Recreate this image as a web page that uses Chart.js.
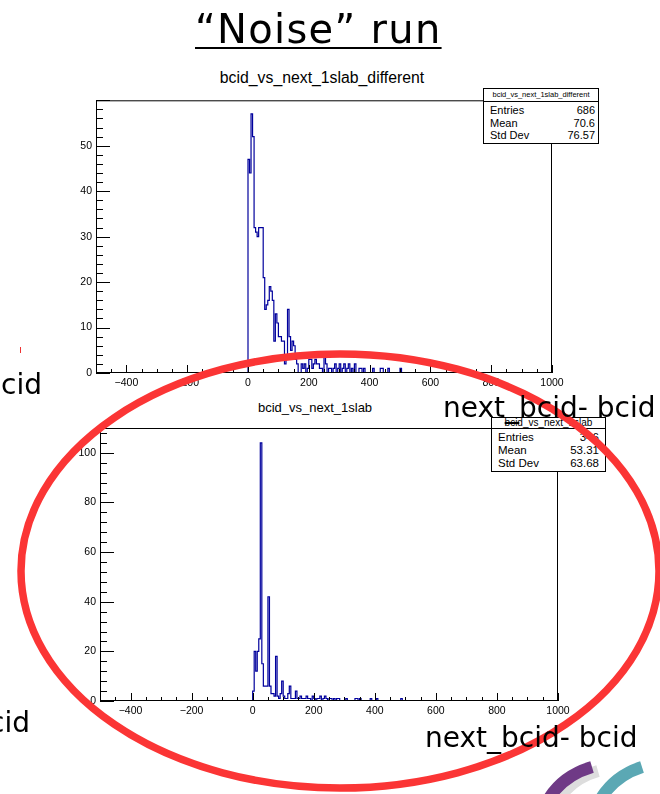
<!DOCTYPE html>
<html>
<head>
<meta charset="utf-8">
<script src="https://cdn.jsdelivr.net/npm/chart.js@4.4.1/dist/chart.umd.min.js"></script>
<style>
  html, body { margin: 0; padding: 0; background: #fff; }
  body { width: 660px; height: 794px; position: relative; overflow: hidden; font-family: "Liberation Sans", Arial, sans-serif; }
  canvas { position: absolute; }
  .slide { position: absolute; font-family: "DejaVu Sans", sans-serif; color: #000; white-space: nowrap; line-height: 1; }
  .htitle { position: absolute; white-space: nowrap; color: #000; line-height: 1; transform: translateX(-50%); }
  .stats { position: absolute; background: #fff; border: 1px solid #000; box-sizing: border-box; color: #000; }
  .stats .st { text-align: center; border-bottom: 1px solid #000; white-space: nowrap; overflow: hidden; }
  .stats .row { display: flex; justify-content: space-between; }
</style>
</head>
<body>

<canvas id="topChart" width="560" height="310" style="left:40px;top:90px"></canvas>
<canvas id="bottomChart" width="560" height="315" style="left:40px;top:415px"></canvas>

<div class="htitle" style="left:322px;top:70px;font-size:15.8px">bcid_vs_next_1slab_different</div>
<div class="htitle" style="left:315px;top:401px;font-size:13px">bcid_vs_next_1slab</div>

<div class="stats" style="left:483px;top:88px;width:116px;height:56px">
  <div class="st" style="font-size:7.5px;height:12px;line-height:12px">bcid_vs_next_1slab_different</div>
  <div style="padding:2px 3px 0 6px;font-size:11px;line-height:12.5px">
    <div class="row"><span>Entries</span><span>686</span></div>
    <div class="row"><span>Mean</span><span>70.6</span></div>
    <div class="row"><span>Std Dev</span><span>76.57</span></div>
  </div>
</div>

<div class="stats" style="left:491px;top:417px;width:115px;height:55px">
  <div class="st" style="font-size:10px;height:10px;line-height:10px">bcid_vs_next_1slab</div>
  <div style="padding:2px 6px 0 6px;font-size:11.5px;line-height:13px">
    <div class="row"><span>Entries</span><span>346</span></div>
    <div class="row"><span>Mean</span><span>53.31</span></div>
    <div class="row"><span>Std Dev</span><span>63.68</span></div>
  </div>
</div>

<svg width="660" height="794" style="position:absolute;left:0;top:0">
  <ellipse cx="340" cy="571" rx="319" ry="217" fill="none" stroke="#fb3535" stroke-width="7.5"/>
  <line x1="20.5" y1="347" x2="20.5" y2="353" stroke="#e33" stroke-width="1"/>
  <path d="M552 800 Q566 776 594 768" stroke="#ddd" stroke-width="12" fill="none" transform="translate(4,3)"/>
  <path d="M548 800 Q562 776 592 767" stroke="#6f3a86" stroke-width="12" fill="none"/>
  <path d="M600 800 Q614 776 642 767" stroke="#5ba8b4" stroke-width="12" fill="none"/>
</svg>

<div class="slide" style="left:195px;top:9px;font-size:40px;letter-spacing:1.3px;text-decoration:underline;text-decoration-thickness:2px;text-underline-offset:4px">“Noise” run</div>
<div class="slide" style="left:1px;top:371px;font-size:28px">cid</div>
<div class="slide" style="left:443px;top:394px;font-size:28px">next_bcid- bcid</div>
<div class="slide" style="left:-11px;top:709px;font-size:28px">cid</div>
<div class="slide" style="left:425px;top:724px;font-size:28px">next_bcid- bcid</div>

<script>
// bin width of both histograms (x units)
const binWidth = 5;
const xTickLabels = [-400, -200, 0, 200, 400, 600, 800, 1000];
const topYTicks = [0, 10, 20, 30, 40, 50];
const bottomYTicks = [0, 20, 40, 60, 80, 100];

// counts per bin, starting at x = 0
const topCounts = [
  47, 44, 57, 52, 32, 31, 30, 32, 32, 32,
  21, 14, 15, 16, 19, 18, 16, 7, 13, 11,
  8, 8, 7, 7, 2, 4, 14, 8, 5, 7,
  6, 3, 2, 0, 0, 2, 1, 2, 0, 1,
  3, 3, 1, 2, 3, 2, 2, 1, 1, 0,
  4, 2, 0, 1, 1, 0, 1, 2, 0, 1,
  2, 0, 1, 2, 0, 1, 2, 0, 1, 0,
  2, 0, 0, 1, 1, 0, 1, 0, 0, 0,
  0, 0, 1, 0, 0, 0, 0, 1, 1, 0,
  0, 0, 1, 0, 0, 0, 0, 0, 0, 0,
  1
];
const bottomCounts = [
  4, 20, 12, 20, 25, 104, 15, 6, 6, 6,
  42, 6, 3, 3, 2, 18, 2, 1, 3, 8,
  2, 1, 1, 3, 6, 1, 1, 1, 4, 1,
  1, 2, 1, 1, 1, 2, 1, 1, 0, 2,
  1, 0, 1, 1, 2, 0, 1, 2, 1, 0,
  1, 1, 0, 1, 0, 1, 1, 0, 0, 0,
  0, 1, 0, 0, 0, 0, 0, 1, 1, 0,
  1, 0, 0, 0, 0, 0, 0, 1, 0, 0,
  0, 1, 0, 0, 0, 0, 0, 0, 0, 0,
  0, 0, 0, 0, 0, 0, 0, 1
];

// ROOT style frame + inward ticks
const rootFrame = {
  id: 'rootFrame',
  afterDatasetsDraw(chart, args, opts) {
    const { ctx, chartArea: a, scales: { x, y } } = chart;
    ctx.save();
    ctx.strokeStyle = '#000';
    ctx.lineWidth = 1;
    ctx.strokeRect(a.left + 0.5, a.top + 0.5, a.right - a.left - 1, a.bottom - a.top - 1);
    ctx.beginPath();
    for (let v = -450; v <= 1000; v += 50) {
      const px = Math.round(x.getPixelForValue(v)) + 0.5;
      const len = v % 200 === 0 ? 8 : 4;
      ctx.moveTo(px, a.bottom);
      ctx.lineTo(px, a.bottom - len);
    }
    for (let v = 0; v <= y.max; v += opts.yMinor) {
      const py = Math.round(y.getPixelForValue(v)) + 0.5;
      const len = v % opts.yMajor === 0 ? 14 : 7;
      ctx.moveTo(a.left, py);
      ctx.lineTo(a.left + len, py);
    }
    ctx.stroke();
    ctx.restore();
  }
};

function histChart(id, counts, yMax, yTicks, yMajor, yMinor, pad, yWidth, xHeight) {
  const points = [{ x: 0, y: 0 }];
  counts.forEach((c, i) => points.push({ x: i * binWidth, y: c }));
  points.push({ x: counts.length * binWidth, y: 0 });

  const tickFont = { family: 'Liberation Sans', size: 10.5 };
  return new Chart(document.getElementById(id), {
    type: 'line',
    data: {
      datasets: [{
        data: points,
        borderColor: '#00009c',
        borderWidth: 1.2,
        pointRadius: 0,
        stepped: true,
        fill: false
      }]
    },
    options: {
      responsive: false,
      animation: false,
      events: [],
      layout: { padding: pad },
      plugins: {
        legend: { display: false },
        tooltip: { enabled: false },
        rootFrame: { yMajor: yMajor, yMinor: yMinor }
      },
      scales: {
        x: {
          type: 'linear', min: -500, max: 1000,
          grid: { display: false, drawTicks: false },
          border: { display: false },
          afterBuildTicks: s => { s.ticks = xTickLabels.map(v => ({ value: v })); },
          afterFit: s => { s.height = xHeight; },
          ticks: {
            padding: 4, color: '#000', font: tickFont, maxRotation: 0, autoSkip: false,
            callback: v => String(v).replace('-', '\u2212')
          }
        },
        y: {
          type: 'linear', min: 0, max: yMax,
          grid: { display: false, drawTicks: false },
          border: { display: false },
          afterBuildTicks: s => { s.ticks = yTicks.map(v => ({ value: v })); },
          afterFit: s => { s.width = yWidth; },
          ticks: { padding: 4, color: '#000', font: tickFont, autoSkip: false }
        }
      }
    },
    plugins: [rootFrame]
  });
}

histChart('topChart', topCounts, 60, topYTicks, 10, 2, { top: 10, right: 48, left: 0, bottom: 0 }, 56, 27);
histChart('bottomChart', bottomCounts, 110, bottomYTicks, 20, 4, { top: 13, right: 42, left: 0, bottom: 0 }, 60, 29);
</script>
</body>
</html>
